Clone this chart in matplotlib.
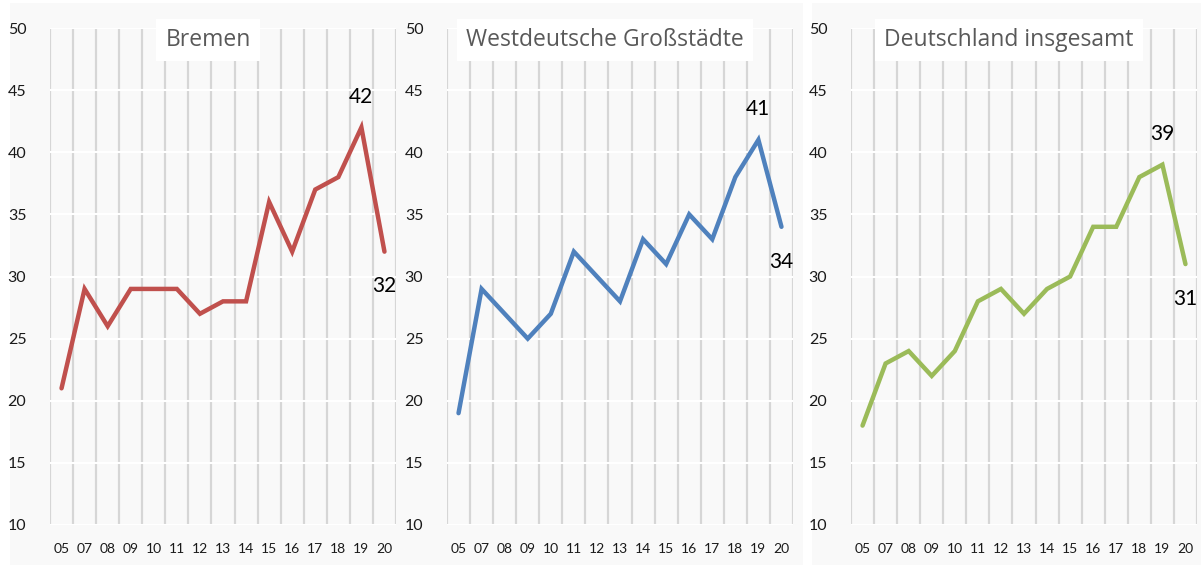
import matplotlib
matplotlib.use("Agg")
import matplotlib.pyplot as plt
from matplotlib.patches import Rectangle

years = ["05", "07", "08", "09", "10", "11", "12", "13", "14", "15", "16", "17", "18", "19", "20"]
bremen = [21, 29, 26, 29, 29, 29, 27, 28, 28, 36, 32, 37, 38, 42, 32]
west = [19, 29, 27, 25, 27, 32, 30, 28, 33, 31, 35, 33, 38, 41, 34]
germany = [18, 23, 24, 22, 24, 28, 29, 27, 29, 30, 34, 34, 38, 39, 31]

titles = ["Bremen", "Westdeutsche Großstädte", "Deutschland insgesamt"]
series = [bremen, west, germany]
colors = ["#c0504d", "#4f81bd", "#9bbb59"]

W, H = 1201, 569
fig = plt.figure(figsize=(W / 100, H / 100), dpi=100, facecolor="white")

# light panel backgrounds (pixel coords)
for x0, x1 in [(10, 403), (403, 803), (812, 1201)]:
    fig.patches.append(Rectangle((x0 / W, 1 - 565 / H), (x1 - x0) / W, 562 / H,
                                 transform=fig.transFigure, facecolor="#f9f9f9",
                                 edgecolor="none", zorder=-5))

lefts = [50, 447, 851]
pw = 346
top, bottom = 28, 525

for i in range(3):
    ax = fig.add_axes([lefts[i] / W, 1 - bottom / H, pw / W, (bottom - top) / H])
    ax.set_facecolor("none")
    xs = list(range(len(years)))
    vals = series[i]
    ax.plot(xs, vals, color=colors[i], lw=3.2, solid_capstyle="round",
            solid_joinstyle="miter", zorder=3)
    ax.set_xlim(-0.5, len(years) - 0.5)
    ax.set_ylim(10, 50)
    ax.set_yticks(range(10, 51, 5))
    ax.set_xticks(xs)
    ax.set_xticklabels(years, fontsize=10, family="Lato", color="#1a1a1a")
    ax.set_yticklabels([str(v) for v in range(10, 51, 5)], fontsize=11.5,
                       family="Lato", color="#1a1a1a")
    ax.set_xticks([x - 0.5 for x in range(len(years) + 1)], minor=True)
    ax.tick_params(axis="both", which="both", length=0)
    ax.tick_params(axis="x", pad=13)
    ax.tick_params(axis="y", pad=17)
    ax.grid(which="minor", axis="x", color="#d6d6d6", lw=1.6, zorder=1)
    ax.grid(which="major", axis="y", color="white", lw=1.5, zorder=1)
    ax.grid(which="major", axis="x", visible=False)
    for s in ax.spines.values():
        s.set_visible(False)

    # value labels for the last two years
    ax.annotate(str(vals[-2]), (xs[-2], vals[-2]), xytext=(0, 22),
                textcoords="offset points", ha="center", va="center",
                fontsize=15, family="Lato", color="black")
    ax.annotate(str(vals[-1]), (xs[-1], vals[-1]), xytext=(0, -25),
                textcoords="offset points", ha="center", va="center",
                fontsize=15, family="Lato", color="black")

    cx = (lefts[i] + pw / 2 - 15) / W
    fig.text(cx, 1 - 40 / H, titles[i], ha="center", va="center", fontsize=16.5,
             family="Open Sans", color="#595959", zorder=5,
             bbox=dict(boxstyle="square,pad=0.4", facecolor="white", edgecolor="none"))

fig.savefig("out.png", dpi=100, facecolor="white")
